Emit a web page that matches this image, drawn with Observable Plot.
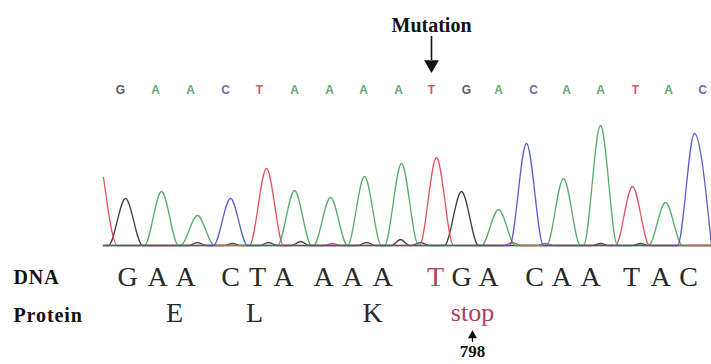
<!DOCTYPE html>
<html>
<head>
<meta charset="utf-8">
<script src="https://cdn.jsdelivr.net/npm/d3@7"></script>
<script src="https://cdn.jsdelivr.net/npm/@observablehq/plot@0.6"></script>
<style>
  html, body { margin: 0; padding: 0; background: #fff; }
  #chart { width: 711px; height: 364px; overflow: hidden; }
</style>
</head>
<body>
<div id="chart"></div>
<script>
// ---- data ----
// base calls printed above the trace, with their scan positions
const callBases = ["G","A","A","C","T","A","A","A","A","T","G","A","C","A","A","T","A","C"];
const callX     = [120,155,190,225,259,294,329,363,398,431,466,498,533,566,600,635,668,702];

// chromatogram peaks: scan position, base channel, height above baseline
const peakX    = [125,161,197,230,266,294,330,364,401,436,461,498,526,563,600,632,665,694];
const peakBase = ["G","A","A","C","T","A","A","A","A","T","G","A","C","A","A","T","A","C"];
const peakH    = [47, 54, 30, 47, 77, 55, 48, 69, 82, 88, 54, 36, 102,67, 120,59, 43, 112];

// small secondary bumps along the baseline
const bumpX    = [197,232,268,300,332,366,400,420,512,545,600,640];
const bumpBase = ["G","G","G","G","T","G","G","G","T","T","G","G"];
const bumpH    = [3, 2, 3, 4, 2, 3, 6, 3, 3, 2, 2, 2];

// the red trace enters from the left edge, falling from this height
const tEdgeX = [103, 117];
const tEdgeH = [68, 0];

// DNA codons and translated protein
const codons   = ["GAA","CTA","AAA","TGA","CAA","TAC"];
const dnaX     = [127,157,185, 230,257,283, 323,352,382, 435,461,488, 534,561,590, 631,660,688];
const aminoAcids = ["E","L","K","stop"];
const aaX        = [174,254,372,472];
const mutationIndex = 9;     // the T of TGA
const stopLabel = "798";

// ---- layout constants ----
const colors = {A: "#45a35a", C: "#4b4bc8", G: "#2f2f2f", T: "#e0404c"};
const callColors = {A: "#62aa72", C: "#6c6cb4", G: "#5e5e5e", T: "#d65a66"};
const HW = 17;           // half-width of a peak at its base
const X_END = 711;

function tracePoints(base) {
  const pts = [];
  const list = [];
  peakX.forEach((x, i) => { if (peakBase[i] === base) list.push([x, peakH[i]]); });
  bumpX.forEach((x, i) => { if (bumpBase[i] === base) list.push([x, bumpH[i]]); });
  list.sort((a, b) => a[0] - b[0]);
  if (base === "T") { pts.push([tEdgeX[0], tEdgeH[0]]); pts.push([tEdgeX[1], tEdgeH[1]]); }
  else pts.push([103, 0]);
  const hw = h => h < 10 ? 9 : HW;
  for (const [x, h] of list) {
    const a = x - hw(h), b = x + hw(h);
    if (a > pts[pts.length - 1][0]) pts.push([a, 0]);
    pts.push([x, h]);
    pts.push([b, 0]);
  }
  if (pts[pts.length - 1][0] < X_END) pts.push([X_END, 0]);
  return pts.map(([x, y]) => ({x, y, base}));
}

const order = ["G", "T", "A", "C"];
const traces = order.flatMap(b => tracePoints(b));

const calls = callBases.map((b, i) => ({x: callX[i], b}));
const dnaLetters = codons.join("").split("").map((ch, i) => ({x: dnaX[i], ch, mut: i === mutationIndex}));
const aa = aminoAcids.map((a, i) => ({x: aaX[i], a}));
const mutX = callX[mutationIndex];
const stopX = aaX[3];

// y is in pixels above the trace baseline
const py = px => 245 - px;
const serif = "Liberation Serif, Times New Roman, serif";

const chart = Plot.plot({
  width: 711,
  height: 364,
  margin: 0,
  x: {domain: [0, 711], range: [0, 711], axis: null},
  y: {domain: [-119, 245], range: [364, 0], axis: null},
  style: {background: "#fff", overflow: "visible"},
  marks: [
    Plot.line(traces, {x: "x", y: "y", z: "base", stroke: d => colors[d.base], curve: "monotone-x", strokeWidth: 1.3, strokeOpacity: 0.9}),
    // base calls
    Plot.text(calls, {x: "x", y: py(90), text: "b", fill: d => callColors[d.b], fontSize: 12, fontWeight: 600, fontFamily: "Liberation Sans, Arial, sans-serif"}),
    // mutation label & arrow
    Plot.text([mutX], {x: d => d, y: py(25), text: () => "Mutation", fontWeight: "bold", fontSize: 20, fontFamily: serif, fill: "#111", style: "letter-spacing:0.4px"}),
    Plot.ruleX([mutX], {x: d => d, y1: py(36), y2: py(60), stroke: "#111", strokeWidth: 1.6}),
    Plot.dot([mutX], {x: d => d, y: py(64), symbol: "triangle", rotate: 180, r: 5.5, fill: "#111", stroke: "none"}),
    // row labels
    Plot.text(["DNA"], {x: 13, y: py(277), text: d => d, textAnchor: "start", fontWeight: "bold", fontSize: 20, fontFamily: serif, fill: "#111"}),
    Plot.text(["Protein"], {x: 13, y: py(315), text: d => d, textAnchor: "start", fontWeight: "bold", fontSize: 20, fontFamily: serif, fill: "#111"}),
    // DNA letters
    Plot.text(dnaLetters, {x: "x", y: py(277), text: "ch", fontSize: 28, fontFamily: serif, fill: d => d.mut ? "#a8475a" : "#2a2a2a"}),
    // protein letters
    Plot.text(aa, {x: "x", y: d => d.a === "stop" ? py(312) : py(313), text: "a", fontSize: d => d.a === "stop" ? 26 : 28, fontFamily: serif, fill: d => d.a === "stop" ? "#b04058" : "#2a2a2a"}),
    // position marker
    Plot.dot([stopX], {x: d => d, y: py(335), symbol: "triangle", r: 3.4, fill: "#111", stroke: "none"}),
    Plot.ruleX([stopX], {x: d => d, y1: py(336), y2: py(342), stroke: "#111", strokeWidth: 1.2}),
    Plot.text([stopLabel], {x: stopX, y: py(351), text: d => d, fontWeight: "bold", fontSize: 17, fontFamily: serif, fill: "#111"})
  ]
});
// widen the bold row labels slightly to match the reference's wider type
chart.querySelectorAll("text").forEach(t => {
  if (t.textContent === "Protein" || t.textContent === "DNA") t.setAttribute("style", "letter-spacing:0.9px");
});
document.getElementById("chart").appendChild(chart);
</script>
</body>
</html>
